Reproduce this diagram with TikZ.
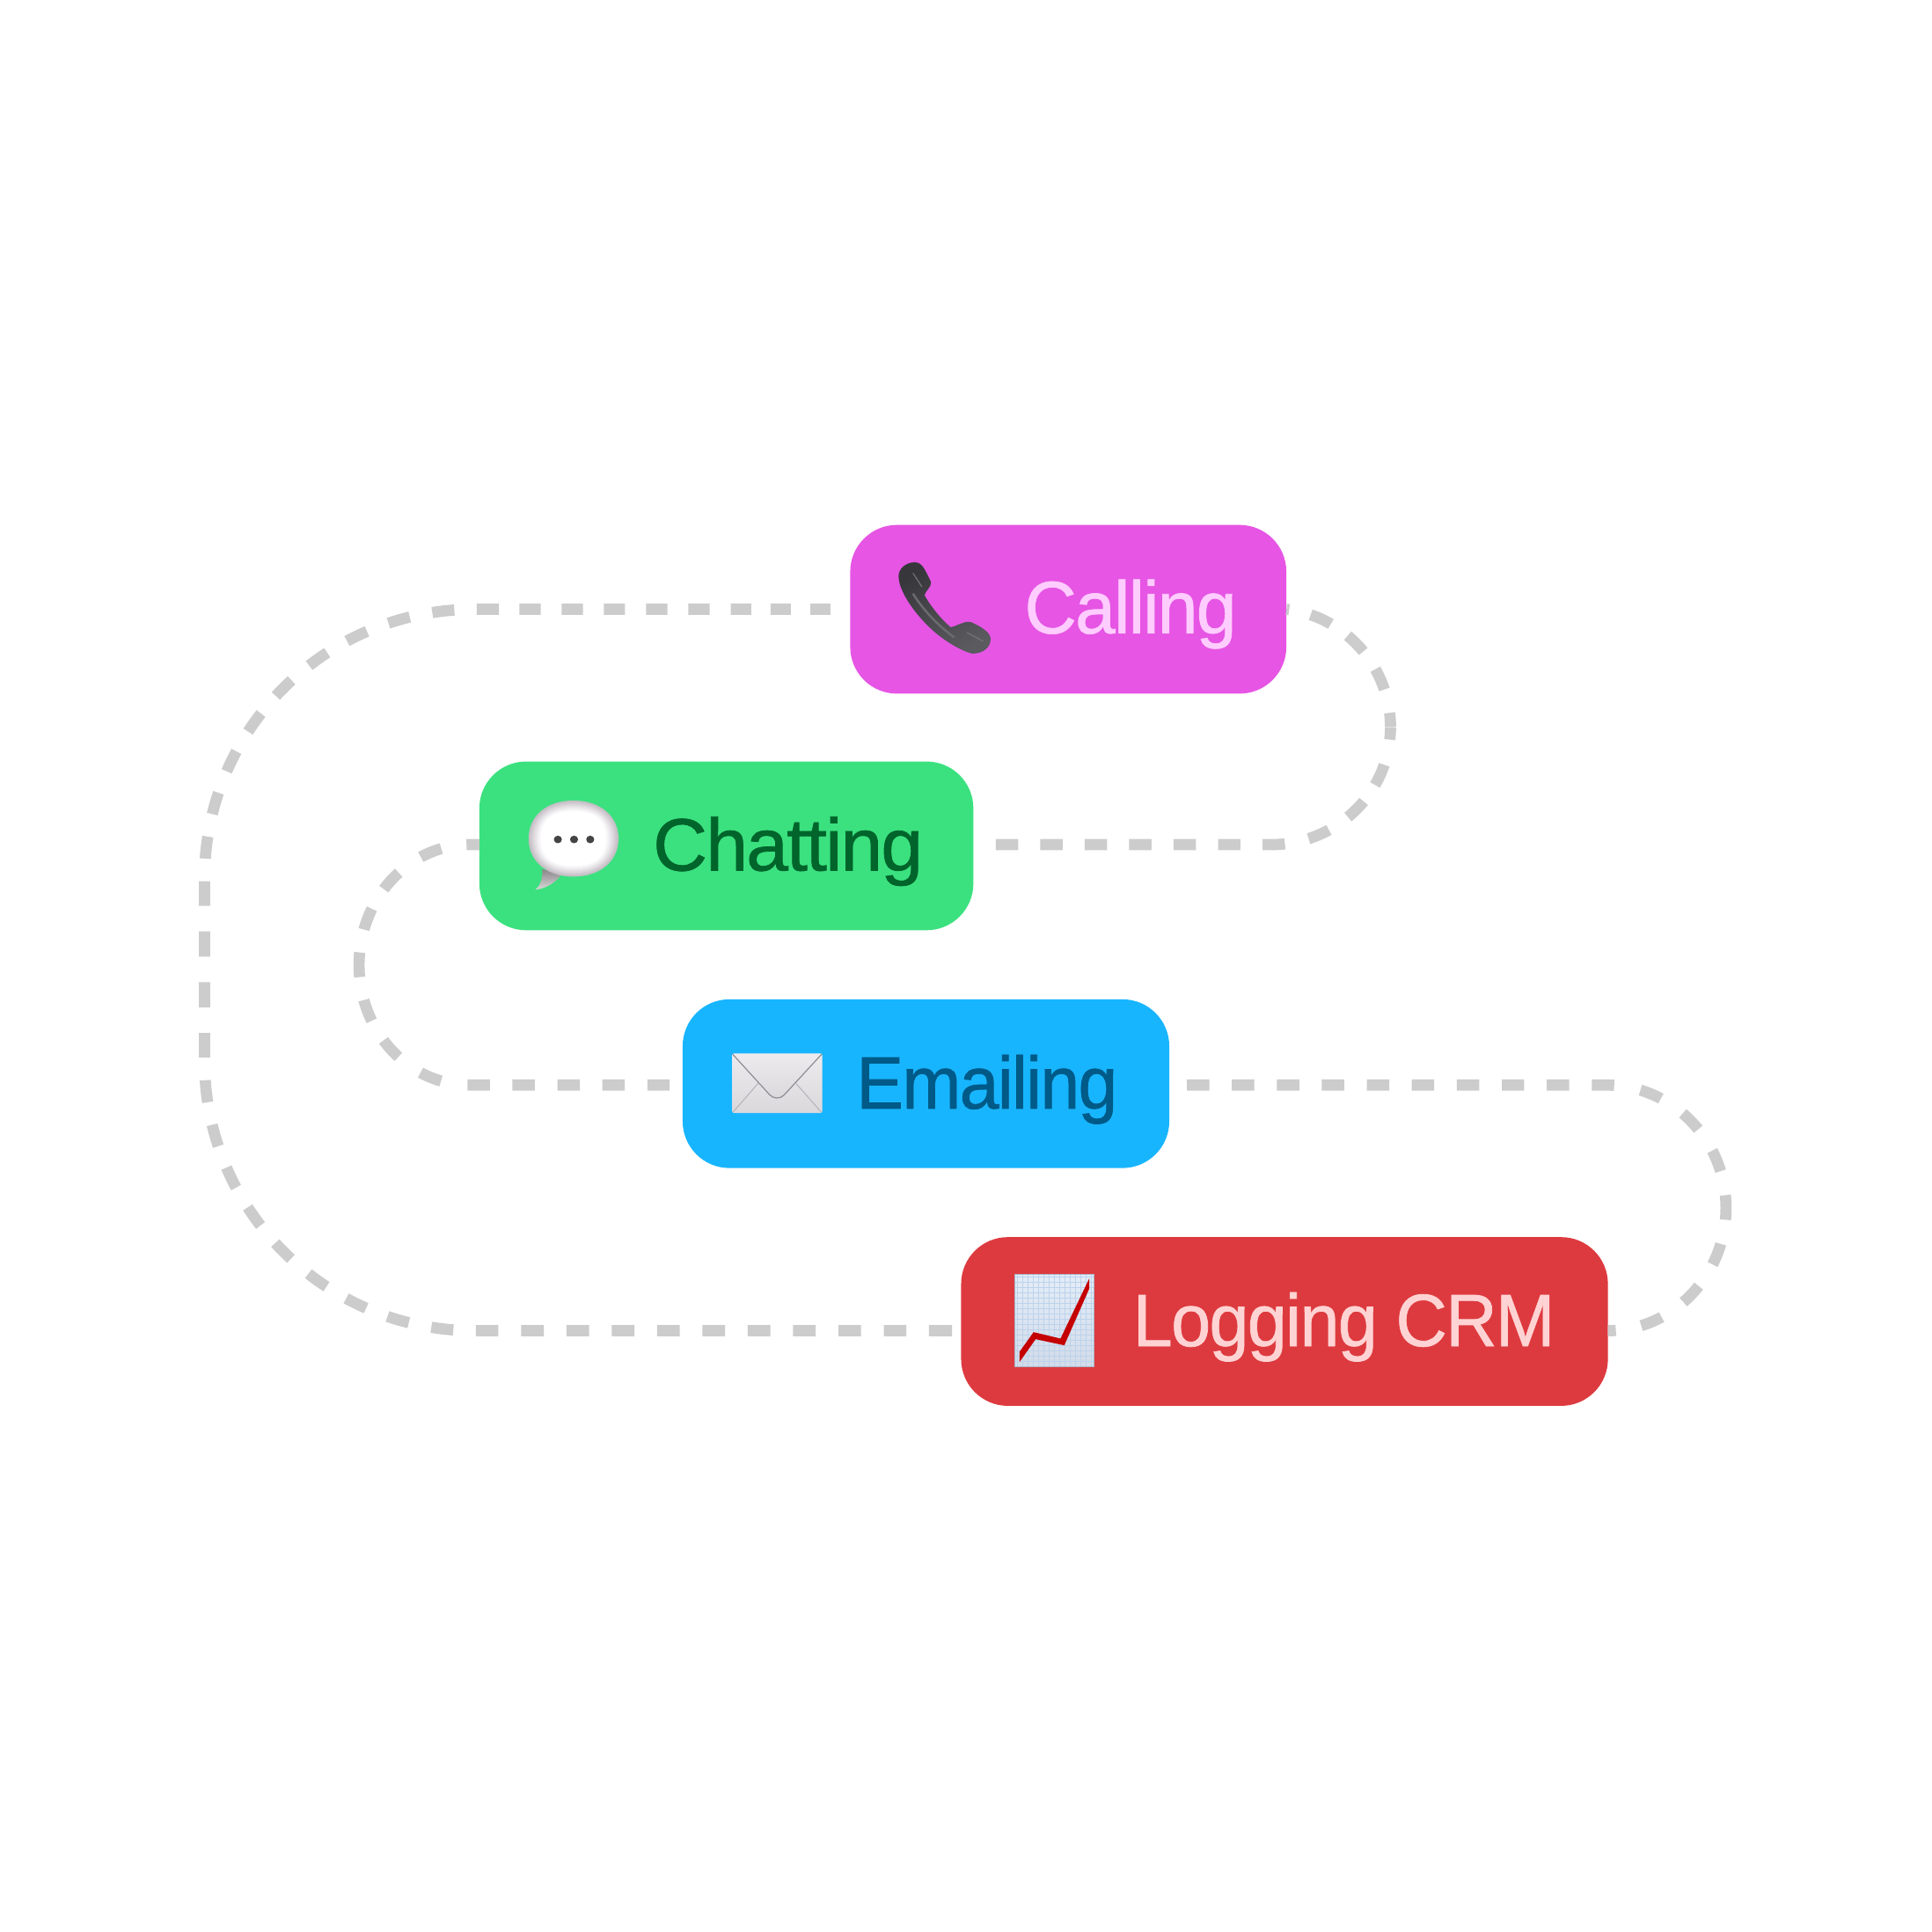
\documentclass[tikz,border=0pt]{standalone}
\usepackage{graphicx}
\usepackage{fontspec}
\setmainfont{Liberation Sans}
\newfontfamily\tagfont{Liberation Sans}[FakeBold=0.9,LetterSpace=-2]
\definecolor{dashc}{HTML}{CCCCCC}
\definecolor{callbg}{HTML}{E655E4}
\definecolor{chatbg}{HTML}{3BE17F}
\definecolor{mailbg}{HTML}{18B5FF}
\definecolor{crmbg}{HTML}{DD3A3F}
\definecolor{calltx}{HTML}{FFCCFF}
\definecolor{chattx}{HTML}{00642B}
\definecolor{mailtx}{HTML}{005A87}
\definecolor{crmtx}{HTML}{FFD3D3}
\definecolor{bubedge}{HTML}{C6C0C6}
\definecolor{phonea}{HTML}{37373B}
\definecolor{phoneb}{HTML}{5A5A5F}
\definecolor{envlight}{HTML}{EDEBEE}
\definecolor{envdark}{HTML}{DAD8DB}
\definecolor{envline}{HTML}{8F8D92}
\definecolor{charta}{HTML}{E4EDF8}
\definecolor{chartb}{HTML}{D2DBE8}
\definecolor{chartgrid}{HTML}{BCD3EC}
\definecolor{chartedge}{HTML}{A9B5C6}
\definecolor{chartred}{HTML}{C40000}
\tikzset{
  x=0.014005cm, y=-0.014005cm,
  dashline/.style={draw=dashc, line width=0.127cm},
  tagbox/.style={rectangle, rounded corners=0.532cm, inner sep=0pt, outer sep=0pt, minimum height=1.918cm},
  taglabel/.style={anchor=base west, inner sep=0pt, outer sep=0pt, font=\tagfont\fontsize{24}{30}\selectfont},
}
\begin{document}
\begin{tikzpicture}
\useasboundingbox (0,0) rectangle (1568,1568);
\fill[white] (0,0) rectangle (1568,1568);
% boxes
\node[tagbox, fill=callbg, minimum width=4.958cm] (calling) at (867,494.5) {};
\node[tagbox, fill=chatbg, minimum width=5.616cm] (chatting) at (589.5,686.5) {};
\node[tagbox, fill=mailbg, minimum width=5.532cm] (emailing) at (751.5,879.5) {};
\node[tagbox, fill=crmbg, minimum width=7.353cm] (logging) at (1042.5,1072.5) {};
% connectors
\coordinate (leftmid) at (166,787.6);
\coordinate (rightA) at (1128.5,590);
\draw[dashline, dash pattern=on 0pt off 6.38pt on 6.49pt off 6.38pt on 6.49pt off 6.26pt on 6.61pt off 6.89pt on 6.89pt off 6.77pt on 6.89pt off 6.77pt on 6.89pt off 6.73pt on 6.89pt off 6.77pt on 6.89pt off 6.61pt on 7.17pt off 7.29pt on 7.17pt off 7.44pt on 7.17pt off 7.44pt on 7.17pt off 7.44pt on 7.17pt off 7.44pt on 7.17pt off 7.44pt on 7.17pt off 7.44pt on 7.17pt off 7.44pt on 7.17pt off 7.44pt on 7.17pt off 7.29pt on 7.97pt off 8.25pt on 8.21pt off 20pt]
  (calling.west) -- (385,494.5) .. controls (264,494.5) and (166,592) .. (166,713) -- (leftmid);
\draw[dashline, dash pattern=on 0pt off 2.91pt on 7.53pt off 7.29pt on 7.29pt off 7.37pt on 7.29pt off 7.37pt on 7.29pt off 7.37pt on 7.29pt off 7.37pt on 7.29pt off 7.37pt on 7.29pt off 7.37pt on 7.29pt off 7.37pt on 7.29pt off 7.37pt on 7.29pt off 7.37pt on 7.29pt off 7.29pt on 7.17pt off 7.44pt on 7.17pt off 7.44pt on 7.17pt off 7.44pt on 7.17pt off 7.44pt on 7.17pt off 7.44pt on 7.17pt off 7.44pt on 7.17pt off 7.44pt on 7.17pt off 7.44pt on 7.17pt off 7.29pt on 7.97pt off 8.25pt on 8.21pt off 20pt]
  ([yshift=-0.105cm]logging.west) -- (385,1080) .. controls (264,1080) and (166,982) .. (166,861) -- (leftmid);
\draw[dashline, dash pattern=on 0.92pt off 7.17pt on 7.17pt off 6.65pt on 7.17pt off 6.97pt on 7.17pt off 7.77pt on 4.78pt off 20pt]
  (calling.east) .. controls (1092.4,500) and (1128.5,542.1) .. (rightA);
\draw[dashline, dash pattern=on 0pt off 7.25pt on 7.25pt off 7.13pt on 7.25pt off 7.13pt on 7.25pt off 7.13pt on 7.25pt off 7.13pt on 7.25pt off 7.13pt on 7.25pt off 7.13pt on 7.25pt off 7.85pt on 7.17pt off 7.45pt on 7.17pt off 6.49pt on 7.17pt off 8.37pt on 3.98pt off 20pt]
  ([yshift=0.014cm]chatting.east) -- (1031.5,685.5) .. controls (1085,685.5) and (1128.5,643) .. (rightA);
\draw[dashline, dash pattern=on 4.14pt off 8.29pt on 7.17pt off 8.81pt on 7.17pt off 7.45pt on 7.17pt off 7.57pt on 7.97pt off 7.57pt on 7.17pt off 7.45pt on 7.17pt off 8.81pt on 7.17pt off 8.69pt on 7.25pt off 7.29pt on 7.25pt off 7.29pt on 7.25pt off 7.29pt on 7.25pt off 7.29pt on 7.25pt off 20pt]
  ([yshift=0.014cm]chatting.west) -- (381,685.5) .. controls (331.5,685.5) and (291.4,729.6) .. (291.4,783.2) .. controls (291.4,837) and (331.5,880.6) .. (381,880.6) -- ([yshift=-0.0154cm]emailing.west);
\draw[dashline, dash pattern=on 0pt off 5.70pt on 7.25pt off 7.30pt on 7.25pt off 7.30pt on 7.25pt off 7.30pt on 7.25pt off 7.30pt on 7.25pt off 7.30pt on 7.25pt off 7.30pt on 7.25pt off 7.30pt on 7.25pt off 7.30pt on 7.25pt off 7.30pt on 7.25pt off 8.65pt on 7.17pt off 8.57pt on 7.17pt off 8.29pt on 7.17pt off 7.93pt on 7.97pt off 7.97pt on 7.17pt off 8.33pt on 7.17pt off 8.57pt on 7.17pt off 8.37pt on 3.59pt off 20pt]
  ([yshift=-0.0154cm]emailing.east) -- (1303.5,880.6) .. controls (1357.2,880.6) and (1400.8,925.2) .. (1400.8,980.3) .. controls (1400.8,1035.4) and (1357.2,1080) .. ([yshift=-0.105cm]logging.east);
% labels
\node[taglabel, text=calltx] (tcall) at (831.5,514) {\resizebox{2.409cm}{\height}{Calling}};
\node[taglabel, text=chattx] (tchat) at (530,706.5) {\resizebox{3.067cm}{\height}{Chatting}};
\node[taglabel, text=mailtx] (tmail) at (695,899.7) {\resizebox{2.969cm}{\height}{Emailing}};
\node[taglabel, text=crmtx] (tcrm) at (919.5,1092.5) {\resizebox{4.798cm}{\height}{Logging CRM}};
% phone
\begin{scope}[shift={(685.5,414.1)}, x=0.004082cm, y=-0.003333cm]
\shade[left color=phonea, right color=phoneb, shading angle=30]
 (150,225) .. controls (150,200) and (170,178) .. (195,178) .. controls (215,178) and (222,200) .. (240,245)
 .. controls (242,262) and (225,275) .. (222,290) .. controls (232,315) and (265,370) .. (295,400)
 .. controls (315,395) and (330,378) .. (350,382) .. controls (375,395) and (405,415) .. (406,440)
 .. controls (405,470) and (385,490) .. (355,490) .. controls (320,480) and (270,440) .. (240,405)
 .. controls (200,360) and (150,280) .. (150,225) -- cycle;
\draw[phoneb!85!white, line width=0.012cm] (190,215) -- (215,262);
\draw[phoneb!85!white, line width=0.012cm] (340,418) -- (385,448);
\draw[phoneb!90!white, line width=0.025cm] (190,285) .. controls (215,335) and (255,390) .. (305,435);
\end{scope}
% bubble
\begin{scope}[shift={(378.4,614.1)}, x=0.003826cm, y=-0.003333cm]
\shade[top color=bubedge!70!black, bottom color=white!85!black] (225,385) .. controls (228,415) and (220,440) .. (205,455) .. controls (240,450) and (265,430) .. (285,400) -- cycle;
\foreach \dr/\mixv in {0/0,6/18,12/36,18/54,24/72,30/88,36/100} {
  \fill[white!\mixv!bubedge] (318,150+\dr) .. controls (400-0.9*\dr,150+\dr) and (452-\dr,205) .. (452-\dr,280) .. controls (452-\dr,355) and (400-0.9*\dr,410-\dr) .. (318,410-\dr) .. controls (236+0.9*\dr,410-\dr) and (185+\dr,355) .. (185+\dr,280) .. controls (185+\dr,205) and (236+0.9*\dr,150+\dr) .. (318,150+\dr) -- cycle;
}
\foreach \dx in {272,320,368} \fill[black!65!bubedge] (\dx,283) ellipse (12 and 13);
\end{scope}
% envelope
\begin{scope}[shift={(549.8,806.9)}, x=0.003699cm, y=-0.003333cm]
\shade[rounded corners=0.025cm, top color=envlight, bottom color=envdark] (168,202) rectangle (446,406);
\draw[envline!60!envlight, line width=0.01cm] (172,402) -- (248,305);
\draw[envline!60!envlight, line width=0.01cm] (442,402) -- (365,305);
\shade[top color=envlight, bottom color=envdark] (170,205) -- (285,345) .. controls (298,358) and (316,358) .. (328,345) -- (444,205) -- cycle;
\draw[envline, line width=0.012cm] (170,205) -- (285,345) .. controls (298,358) and (316,358) .. (328,345) -- (444,205);
\end{scope}
% chart
\begin{scope}[shift={(778.3,999.7)}, x=0.003333cm, y=-0.003333cm]
\shade[top color=charta, bottom color=chartb] (192,145) rectangle (462,462);
\foreach \gx in {200,218,...,460} \draw[chartgrid, line width=0.005cm] (\gx,145) -- (\gx,462);
\foreach \gy in {155,173,...,460} \draw[chartgrid, line width=0.005cm] (192,\gy) -- (462,\gy);
\draw[chartedge, line width=0.012cm] (192,145) rectangle (462,462);
\fill[chartred] (207,410) -- (255,343) -- (347,365) -- (445,160) -- (445,195) -- (360,388) -- (262,367) -- (207,445) -- cycle;
\end{scope}
\end{tikzpicture}
\end{document}
